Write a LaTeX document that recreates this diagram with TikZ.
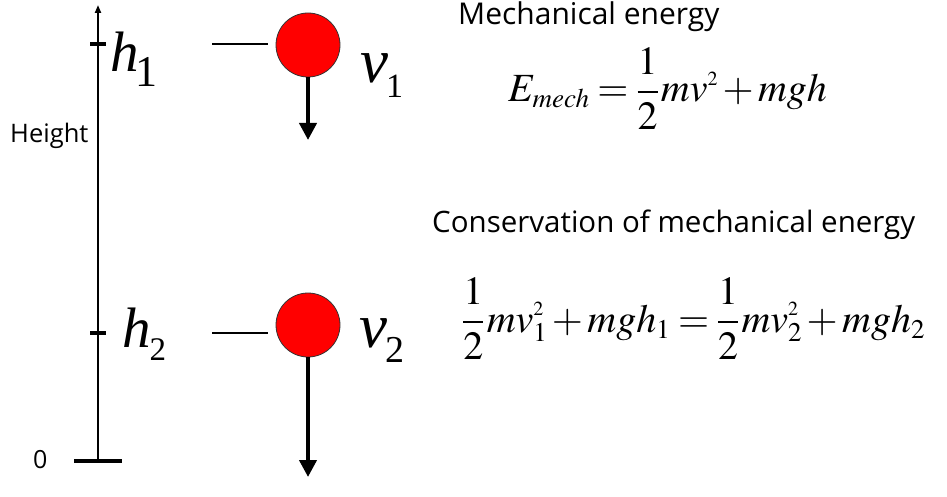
\documentclass[tikz,border=0pt]{standalone}
\usepackage{mathptmx}
\usepackage[no-math]{fontspec}
\setmainfont{Open Sans}
\newfontfamily\tms{Liberation Serif}
\usetikzlibrary{arrows.meta}
\DeclareMathSizes{40}{40}{27}{20}
\tikzset{
  ball/.style={circle, draw=black!80, line width=0.8pt, fill=red, minimum size=64pt, inner sep=0pt},
  fallarrow/.style={line width=4pt, -{Triangle[width=17pt,length=17pt]}},
  axisline/.style={line width=2pt, -{Triangle[width=6pt,length=8pt]}},
  tickmark/.style={line width=4.5pt},
  levelline/.style={line width=2pt},
  lbl/.style={anchor=base west, inner sep=0pt},
  sym/.style={anchor=base west, inner sep=0pt},
  eqn/.style={anchor=base west, inner sep=0pt, font=\fontsize{40}{46}\selectfont},
}
\newcommand{\tightmath}{\medmuskip=2mu\relax\thickmuskip=3.5mu\relax}
\newcommand{\sq}{{\scriptscriptstyle 2}}
\begin{document}
\begin{tikzpicture}[x=1pt,y=-1pt]
\useasboundingbox (0,0) rectangle (947,497);
% axis
\coordinate (axbot) at (98,461);
\coordinate (axtop) at (98,5);
\draw[axisline] (axbot) -- (axtop);
\coordinate (t1a) at (90,44); \coordinate (t1b) at (106,44);
\coordinate (t2a) at (90,333); \coordinate (t2b) at (106,333);
\coordinate (t0a) at (74,461); \coordinate (t0b) at (122,461);
\draw[tickmark] (t1a) -- (t1b);
\draw[tickmark] (t2a) -- (t2b);
\draw[line width=4pt] (t0a) -- (t0b);
\node[sym, font=\fontsize{25}{28}\selectfont] (zero) at (33,468) {0};
\node[sym, font=\fontsize{25.5}{28}\selectfont] (height) at (10,143) {Height};
% height labels
\node[sym] (h1) at (110,72) {{\tms\itshape\fontsize{57}{57}\selectfont h}\kern-3pt\raisebox{-15pt}{\tms\fontsize{44}{44}\selectfont 1}};
\node[sym] (h2) at (122,347) {{\tms\itshape\fontsize{57}{57}\selectfont h}\kern-1pt\raisebox{-13pt}{\tms\fontsize{33}{33}\selectfont 2}};
% balls
\node[ball] (b1) at (308,45) {};
\node[ball] (b2) at (308,325) {};
\coordinate (d1a) at (212,44); \coordinate (d1b) at (268,44);
\coordinate (d2a) at (212,333); \coordinate (d2b) at (268,333);
\draw[levelline] (d1a) -- (d1b);
\draw[levelline] (d2a) -- (d2b);
\coordinate (tip1) at (308,140);
\coordinate (tip2) at (308,477);
\draw[fallarrow] (b1.south) -- (tip1);
\draw[fallarrow] (b2.south) -- (tip2);
% velocity labels
\node[sym] (v1) at (360,83) {{\tms\itshape\fontsize{63}{63}\selectfont v}\kern-2pt\raisebox{-15pt}{\tms\fontsize{34}{34}\selectfont 1}};
\node[sym] (v2) at (359,347) {{\tms\itshape\fontsize{63}{63}\selectfont v}\kern-2pt\raisebox{-15pt}{\tms\fontsize{38}{38}\selectfont 2}};
% right side texts
\node[lbl, font=\fontsize{30}{33}\selectfont] (mtitle) at (458,25) {Mechanical energy};
\node[eqn] (emech) at (508,102) {\tightmath$\displaystyle E_{mech}=\frac{1}{2}\mkern1mu mv^\sq+mgh$};
\node[lbl, font=\fontsize{29.5}{33}\selectfont] (ctitle) at (432,233) {Conservation of mechanical energy};
\node[eqn] (cons) at (462,332) {\tightmath$\displaystyle \frac{1}{2}\mkern1mu mv_1^\sq+mgh_1=\frac{1}{2}\mkern1mu mv_2^\sq+mgh_2$};
\end{tikzpicture}
\end{document}
